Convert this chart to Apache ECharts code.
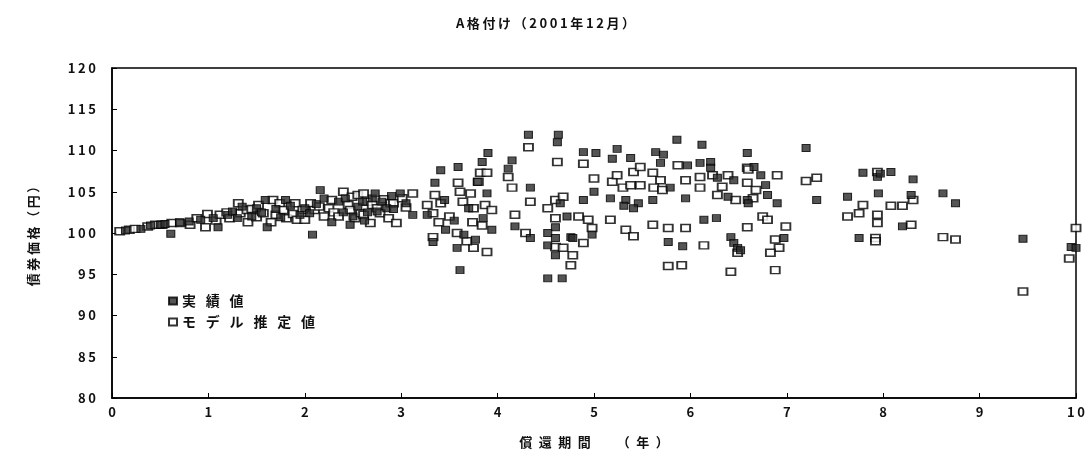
<!DOCTYPE html>
<html>
<head>
<meta charset="utf-8">
<script src="https://cdn.jsdelivr.net/npm/echarts@6/dist/echarts.min.js"></script>
<style>
  html, body { margin: 0; padding: 0; background: #fff; }
  #chart { width: 1091px; height: 462px; }
</style>
</head>
<body>
<div id="chart"></div>
<script>
// A-rated bond prices vs. years to maturity, December 2001
const titleText = 'A格付け（2001年12月）';
const xAxisName = '償還期間　（年）';
const yAxisName = '債券価格（円）';
const seriesNames = ['実績値', 'モデル推定値'];

// Axis ranges
const xRange = [0, 10, 1];
const yRange = [80, 120, 5];

// Observed prices: [years to maturity, price]
const actualPoints = [
  [0.14,100.3],[0.3,100.5],[0.4,100.9],[0.5,101.0],[0.61,99.9],[0.55,101.1],[0.7,101.3],[0.8,101.4],[0.92,101.6],
  [1.05,101.8],[1.1,100.7],[1.2,102.2],[1.25,102.6],[1.3,101.8],[1.35,103.2],[1.45,102.0],[1.5,103.0],[1.55,102.5],[1.61,100.7],[1.59,104.0],[1.7,102.9],[1.75,101.9],[1.8,104.0],[1.85,103.3],[1.95,102.2],
  [2.0,103.0],[2.05,102.4],[2.08,99.8],[2.16,105.2],[2.12,103.5],[2.2,104.2],[2.28,101.3],[2.35,103.8],[2.4,102.5],[2.42,104.2],[2.47,101.0],[2.5,102.0],[2.55,103.2],[2.6,103.8],[2.62,101.5],[2.65,102.5],[2.7,104.2],[2.73,104.8],[2.75,102.6],[2.8,103.8],[2.85,103.0],[2.9,104.5],[2.92,102.9],[2.99,104.8],[3.05,103.6],[3.12,102.2],
  [3.27,102.2],[3.41,107.6],[3.59,108.0],[3.35,106.1],[3.46,100.4],[3.33,98.9],[3.65,99.8],[3.77,99.2],[3.58,98.2],[3.84,108.6],[3.89,104.8],[3.94,100.4],[3.9,109.7],[3.79,106.2],[3.61,95.5],[3.45,104.0],[3.7,103.0],[3.55,101.5],[3.85,101.8],
  [4.15,108.8],[4.11,107.8],[4.34,105.5],[4.18,100.8],[4.34,99.4],[4.32,111.9],[4.63,111.9],[4.62,111.0],[4.6,100.7],[4.52,100.0],[4.6,99.4],[4.76,99.5],[4.52,98.5],[4.6,97.3],[4.52,94.5],[4.67,94.5],[4.98,99.8],[4.78,99.4],[4.89,109.8],[4.89,104.0],[4.65,103.6],[4.72,102.0],
  [5.02,109.7],[5.24,110.2],[5.38,109.1],[5.19,109.0],[5.64,109.8],[5.86,111.3],[5.69,108.5],[5.79,105.5],[5.97,108.2],[5.0,105.0],[5.17,104.2],[5.33,104.0],[5.31,103.3],[5.46,103.6],[5.41,103.0],[5.61,104.0],[5.95,104.2],[5.77,98.9],[5.92,98.4],[5.72,109.5],
  [6.12,110.7],[6.1,108.5],[6.21,108.6],[6.21,107.9],[6.28,106.7],[6.45,106.4],[6.39,104.4],[6.59,109.7],[6.59,104.0],[6.14,101.6],[6.27,101.8],[6.42,99.5],[6.45,98.8],[6.49,98.2],[6.73,107.0],[6.78,105.8],[6.6,103.6],[6.8,104.6],[6.9,103.6],[6.97,99.4],[6.52,97.9],[6.66,108.0],
  [7.2,110.3],[7.31,104.0],[7.63,104.4],[7.79,107.3],[7.94,106.8],[8.08,107.4],[8.31,106.5],[7.95,104.8],[8.29,104.6],[8.2,100.8],[7.75,99.4],[7.97,107.2],[8.62,104.8],[8.75,103.6],[9.45,99.3],[9.95,98.3],[10.0,98.2]
];

// Model-estimated prices: [years to maturity, price]
const modelPoints = [
  [0.08,100.2],[0.18,100.4],[0.24,100.5],[0.37,100.8],[0.45,101.0],[0.52,101.0],[0.62,101.2],[0.71,101.2],[0.81,101.0],[0.88,101.8],[0.99,102.3],[0.97,100.7],
  [1.08,101.5],[1.12,102.2],[1.19,102.5],[1.22,101.8],[1.31,103.6],[1.33,102.4],[1.40,102.8],[1.41,101.3],[1.45,102.9],[1.5,101.9],[1.52,103.4],[1.57,102.4],[1.65,101.3],[1.67,104.0],[1.7,102.2],[1.74,103.6],[1.78,102.8],[1.81,101.8],[1.88,102.3],[1.9,103.6],[1.92,101.6],[1.98,102.8],
  [2.0,101.6],[2.06,103.6],[2.1,102.8],[2.15,103.2],[2.2,102.0],[2.25,103.0],[2.28,104.0],[2.3,102.5],[2.35,102.0],[2.4,105.0],[2.45,103.4],[2.47,102.8],[2.49,104.4],[2.52,101.8],[2.55,104.6],[2.58,102.4],[2.61,104.8],[2.61,102.2],[2.65,103.8],[2.68,101.2],[2.7,103.4],[2.75,103.0],[2.78,102.4],[2.82,104.1],[2.87,101.8],[2.89,103.6],[2.92,103.6],[2.95,101.2],[3.01,104.2],[3.05,103.1],[3.12,104.8],
  [3.27,103.4],[3.35,104.6],[3.41,103.6],[3.33,102.4],[3.39,101.3],[3.33,99.5],[3.59,106.1],[3.61,105.0],[3.64,103.8],[3.72,104.8],[3.75,103.0],[3.82,107.3],[3.89,107.3],[3.8,106.2],[3.87,103.4],[3.94,102.8],[3.74,101.3],[3.84,100.9],[3.58,100.0],[3.75,98.2],[3.89,97.7],[3.5,102.0],[3.68,99.0],
  [4.32,110.4],[4.62,108.6],[4.11,106.8],[4.15,105.5],[4.34,103.8],[4.18,102.2],[4.29,100.0],[4.6,104.0],[4.52,103.0],[4.68,104.4],[4.6,101.8],[4.6,98.3],[4.68,98.2],[4.78,97.3],[4.76,96.1],[4.89,108.4],[4.84,102.0],[4.94,101.6],[4.98,100.6],[4.89,98.8],
  [5.0,106.6],[5.19,106.2],[5.24,107.0],[5.41,107.4],[5.48,108.0],[5.30,105.5],[5.38,105.8],[5.48,105.8],[5.61,107.3],[5.69,106.4],[5.62,105.5],[5.71,105.2],[5.87,108.2],[5.95,106.4],[5.17,101.6],[5.33,100.4],[5.41,99.6],[5.61,101.0],[5.77,100.6],[5.95,100.6],[5.77,96.0],[5.91,96.1],
  [6.1,106.8],[6.23,107.0],[6.1,105.5],[6.39,107.0],[6.33,105.6],[6.28,104.6],[6.47,104.0],[6.59,107.9],[6.59,106.1],[6.14,98.5],[6.42,95.3],[6.49,97.6],[6.59,100.7],[6.6,107.7],[6.9,107.0],[6.68,105.2],[6.65,104.2],[6.75,102.0],[6.8,101.6],[6.99,100.8],[6.88,99.2],[6.92,98.2],[6.83,97.6],[6.88,95.5],
  [7.2,106.3],[7.31,106.7],[7.79,103.4],[7.75,102.4],[7.63,102.0],[7.94,107.4],[7.94,102.2],[7.94,101.2],[8.08,103.3],[8.2,103.3],[8.31,104.0],[8.29,101.0],[7.92,99.4],[7.92,99.0],[8.62,99.5],[8.75,99.2],[9.45,92.9],[10.0,100.6],[9.93,96.9]
];

const FONT = '"Noto Sans CJK JP", "Noto Sans", sans-serif';
// Spread characters apart, as in the printed figure
const spread = gap => v => Array.from(String(v)).join(gap);
const spaced = spread('\u2009');

const chart = echarts.init(document.getElementById('chart'), null, { renderer: 'canvas' });
chart.setOption({
  backgroundColor: '#ffffff',
  animation: false,
  title: {
    text: spread('\u2009')(titleText),
    left: 'center',
    top: 12,
    textStyle: { fontFamily: FONT, fontSize: 13, fontWeight: 'bold', color: '#111' }
  },
  legend: {
    orient: 'vertical',
    left: 163,
    top: 289,
    itemWidth: 8,
    itemHeight: 7,
    itemGap: 7,
    formatter: spread('\u2002\u2009'),
    textStyle: { fontFamily: FONT, fontSize: 14, fontWeight: 'bold', color: '#111' },
    data: seriesNames
  },
  grid: {
    left: 112, right: 15, top: 68, bottom: 64,
    show: true, borderColor: '#000', borderWidth: 1.5, backgroundColor: 'transparent'
  },
  xAxis: {
    type: 'value',
    min: xRange[0], max: xRange[1], interval: xRange[2],
    name: spread('\u2002')(xAxisName),
    nameLocation: 'middle',
    nameGap: 38,
    nameTextStyle: { fontFamily: FONT, fontSize: 13, fontWeight: 'bold', color: '#111' },
    axisLine: { show: true, lineStyle: { color: '#000', width: 1.5 } },
    axisTick: { show: true, inside: true, length: 5, lineStyle: { color: '#000' } },
    splitLine: { show: false },
    axisLabel: {
      margin: 8, formatter: spaced,
      fontFamily: FONT, fontSize: 13, fontWeight: 'bold', color: '#111'
    }
  },
  yAxis: {
    type: 'value',
    min: yRange[0], max: yRange[1], interval: yRange[2],
    name: spread('\u2009')(yAxisName),
    nameLocation: 'middle',
    nameRotate: 90,
    nameGap: 72,
    nameTextStyle: { fontFamily: FONT, fontSize: 13, fontWeight: 'bold', color: '#111' },
    axisLine: { show: true, lineStyle: { color: '#000', width: 1.5 } },
    axisTick: { show: true, inside: true, length: 5, lineStyle: { color: '#000' } },
    splitLine: { show: false },
    axisLabel: {
      margin: 16, formatter: spaced,
      fontFamily: FONT, fontSize: 13, fontWeight: 'bold', color: '#111'
    }
  },
  series: [
    {
      name: seriesNames[1],
      type: 'scatter',
      symbol: 'rect',
      symbolSize: [9, 7],
      itemStyle: { color: '#ffffff', borderColor: '#000', borderWidth: 1.7 },
      data: modelPoints
    },
    {
      name: seriesNames[0],
      type: 'scatter',
      symbol: 'rect',
      symbolSize: [8, 7],
      itemStyle: { color: '#2a2a2a', borderColor: '#000', borderWidth: 1 },
      data: actualPoints
    }
  ]
});
</script>
</body>
</html>
